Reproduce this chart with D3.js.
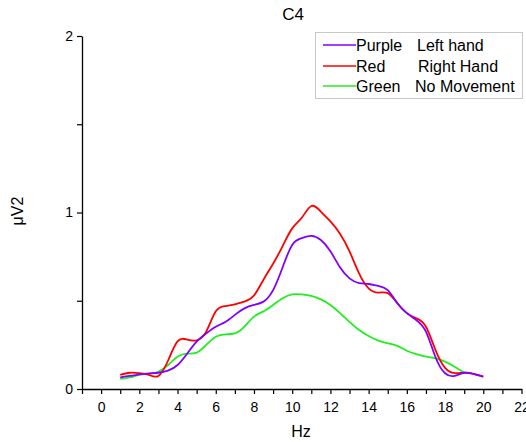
<!DOCTYPE html>
<html>
<head>
<meta charset="utf-8">
<script src="https://cdn.jsdelivr.net/npm/d3@7"></script>
<style>
  html, body { margin: 0; padding: 0; background: #fff; }
  svg { display: block; font-family: "Liberation Sans", Arial, sans-serif; }
</style>
</head>
<body>
<svg id="chart" width="526" height="442"></svg>
<script>
// frequency grid (Hz), 0.5 Hz steps
const HZ = d3.range(1, 20.01, 0.5);

// power values (μV²)
const LEFT_HAND = [0.066, 0.074, 0.083, 0.089, 0.092, 0.104, 0.136, 0.20, 0.268, 0.315,
  0.353, 0.38, 0.42, 0.457, 0.476, 0.495, 0.56, 0.69, 0.816, 0.855,
  0.867, 0.844, 0.78, 0.69, 0.627, 0.60, 0.595, 0.584, 0.56, 0.486,
  0.43, 0.39, 0.325, 0.18, 0.089, 0.074, 0.092, 0.085, 0.07];

const RIGHT_HAND = [0.08, 0.092, 0.09, 0.08, 0.074, 0.16, 0.27, 0.28, 0.276, 0.325,
  0.44, 0.47, 0.48, 0.495, 0.53, 0.62, 0.71, 0.81, 0.91, 0.97,
  1.037, 1.005, 0.95, 0.88, 0.78, 0.655, 0.57, 0.546, 0.543, 0.487,
  0.43, 0.40, 0.353, 0.22, 0.12, 0.09, 0.092, 0.085, 0.07];

// green stops at 19 Hz
const NO_MOVEMENT = [0.058, 0.066, 0.08, 0.085, 0.098, 0.136, 0.183, 0.20, 0.206, 0.25,
  0.296, 0.31, 0.315, 0.353, 0.41, 0.44, 0.476, 0.514, 0.536, 0.536,
  0.527, 0.508, 0.476, 0.43, 0.38, 0.334, 0.30, 0.274, 0.259, 0.244,
  0.217, 0.198, 0.183, 0.174, 0.155, 0.126, 0.092];

const SERIES = [
  { name: "Purple", label: "Left hand",   color: "#8000ff", values: LEFT_HAND },
  { name: "Red",    label: "Right Hand",  color: "#ff0000", values: RIGHT_HAND },
  { name: "Green",  label: "No Movement", color: "#22ee22", values: NO_MOVEMENT },
];

const X_TICKS = d3.range(0, 23, 2);
const Y_TICKS = [0, 1, 2];

const svg = d3.select("#chart");

const x = d3.scaleLinear().domain([-1, 22]).range([82, 521.5]);
const y = d3.scaleLinear().domain([0, 2]).range([389, 36]);

// axes
const xAxis = d3.axisBottom(x)
  .tickValues(d3.range(-1, 23, 1))
  .tickSize(5)
  .tickSizeOuter(0)
  .tickFormat((d) => (X_TICKS.includes(d) ? d : ""));

const gx = svg.append("g").attr("transform", `translate(0,${y(0)})`).call(xAxis);
gx.select(".domain").attr("stroke", "#000").attr("stroke-width", 1.3);
gx.selectAll(".tick line").attr("stroke", "#000").attr("stroke-width", 1.2);
gx.selectAll(".tick text").attr("font-size", 14).attr("fill", "#000").attr("dy", "1.05em");

const yAxis = d3.axisLeft(y)
  .tickValues([0, 0.5, 1, 1.5, 2])
  .tickSize(5)
  .tickSizeOuter(0)
  .tickFormat((d) => (Y_TICKS.includes(d) ? d : ""));

const gy = svg.append("g").attr("transform", `translate(${x(-1)},0)`).call(yAxis);
gy.select(".domain").attr("stroke", "#000").attr("stroke-width", 1.3);
gy.selectAll(".tick line").attr("stroke", "#000").attr("stroke-width", 1.2);
gy.selectAll(".tick text").attr("font-size", 14).attr("fill", "#000").attr("x", -9);

// titles
svg.append("text").attr("x", 293).attr("y", 20).attr("text-anchor", "middle")
  .attr("font-size", 17).text("C4");
svg.append("text").attr("x", 301).attr("y", 437).attr("text-anchor", "middle")
  .attr("font-size", 16).text("Hz");
svg.append("text").attr("transform", "translate(23,211) rotate(-90)")
  .attr("text-anchor", "middle").attr("font-size", 16).text("μV2");

// lines
const line = d3.line()
  .x((d) => x(d[0]))
  .y((d) => y(d[1]))
  .curve(d3.curveNatural);

svg.append("g").selectAll("path")
  .data(SERIES.slice().reverse())
  .join("path")
  .attr("fill", "none")
  .attr("stroke", (d) => d.color)
  .attr("stroke-width", 1.8)
  .attr("d", (d) => line(d.values.map((v, i) => [HZ[i], v])));

// legend
const lg = svg.append("g");
lg.append("rect").attr("x", 315.5).attr("y", 32.5).attr("width", 207).attr("height", 66)
  .attr("fill", "#fff").attr("stroke", "#c8c8c8");
const rowY = [45, 66, 86];
const rows = lg.selectAll("g.row").data(SERIES).join("g")
  .attr("transform", (d, i) => `translate(0,${rowY[i]})`);
rows.append("line").attr("x1", 323).attr("x2", 356).attr("y1", 0).attr("y2", 0)
  .attr("stroke", (d) => d.color).attr("stroke-width", 1.5);
rows.append("text").attr("x", 356).attr("dy", "0.36em").attr("font-size", 16).text((d) => d.name);
rows.append("text").attr("x", (d, i) => [417, 418, 415][i]).attr("dy", "0.36em")
  .attr("font-size", 16).text((d) => d.label);
</script>
</body>
</html>
